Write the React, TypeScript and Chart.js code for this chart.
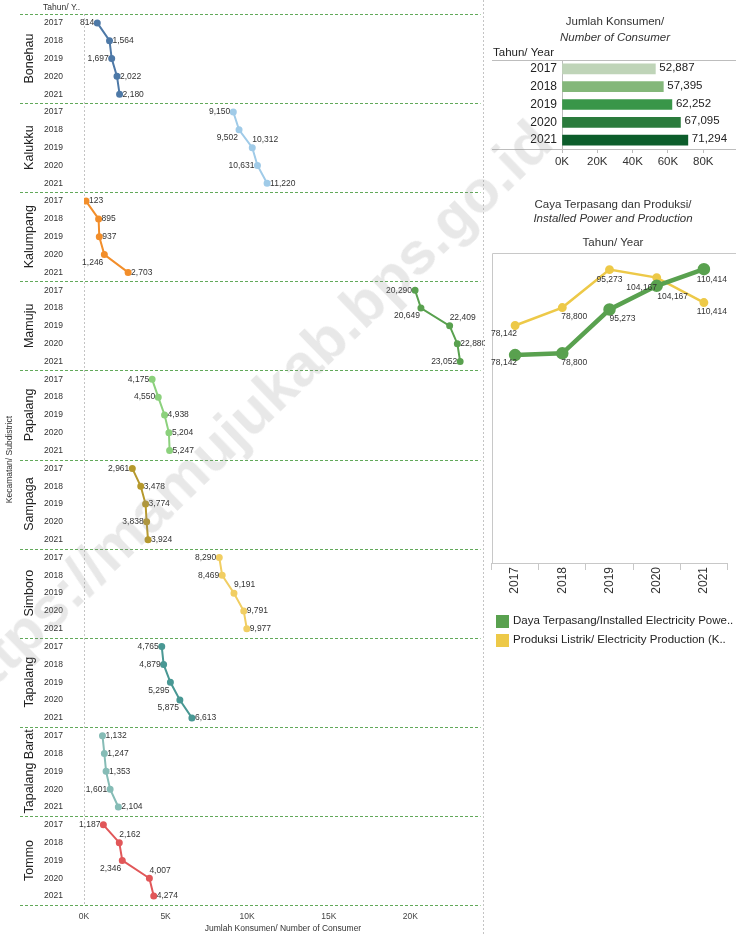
import React, { useEffect, useRef } from 'react';
import { Chart, registerables } from 'chart.js';

Chart.register(...registerables);

const FONT = '"Liberation Sans", Arial, Helvetica, sans-serif';

// ---------------- DATA ----------------
const years = ['2017', '2018', '2019', '2020', '2021'];
const districts = ['Bonehau', 'Kalukku', 'Kalumpang', 'Mamuju', 'Papalang', 'Sampaga', 'Simboro', 'Tapalang', 'Tapalang Barat', 'Tommo'];

const bonehau = [814, 1564, 1697, 2022, 2180];
const kalukku = [9150, 9502, 10312, 10631, 11220];
const kalumpang = [123, 895, 937, 1246, 2703];
const mamuju = [20290, 20649, 22409, 22880, 23052];
const papalang = [4175, 4550, 4938, 5204, 5247];
const sampaga = [2961, 3478, 3774, 3838, 3924];
const simboro = [8290, 8469, 9191, 9791, 9977];
const tapalang = [4765, 4879, 5295, 5875, 6613];
const tapalangBarat = [1132, 1247, 1353, 1601, 2104];
const tommo = [1187, 2162, 2346, 4007, 4274];
const districtValues = [bonehau, kalukku, kalumpang, mamuju, papalang, sampaga, simboro, tapalang, tapalangBarat, tommo];

const districtTicks = [0, 5000, 10000, 15000, 20000];

const consumerTotals = [52887, 57395, 62252, 67095, 71294];
const consumerTicks = [0, 20000, 40000, 60000, 80000];

const installedPower = [78142, 78800, 95273, 104167, 110414];
const productionPlotted = [89250, 96000, 110250, 107250, 97875];
const productionLabels = ['78,142', '78,800', '95,273', '104,167', '110,414'];

const legendLabels = ['Daya Terpasang/Installed Electricity Powe..', 'Produksi Listrik/ Electricity Production (K..'];

// ---------------- STYLES ----------------
const districtColors = ['#4e79a7', '#a0cbe8', '#f28e2b', '#59a14f', '#8cd17d', '#b6992d', '#f1ce63', '#499894', '#86bcb6', '#e15759'];
const labelPlacement = [
  ['L', 'R', 'L', 'R', 'R'],
  ['L', 'LB', 'RA', 'L', 'R'],
  ['R', 'R', 'R', 'LB', 'R'],
  ['L', 'LB', 'RA', 'R', 'L'],
  ['L', 'L', 'R', 'R', 'R'],
  ['L', 'R', 'R', 'L', 'R'],
  ['L', 'L', 'RA', 'R', 'R'],
  ['L', 'L', 'LB', 'LB', 'R'],
  ['R', 'R', 'R', 'L', 'R'],
  ['L', 'RA', 'LB', 'RA', 'R'],
];
const barColors = ['#bfd4b8', '#84b77a', '#399649', '#2a7b3c', '#0c5d2b'];
const powerColor = '#59a14f';
const prodColor = '#edc948';
const powerLabelOffsets = [[-11, 8], [12, 9], [13, 9], [16, 11], [8, 10]];
const prodLabelOffsets = [[-11, 8], [12, 9], [0, 10], [-15, 10], [8, 9]];

const fmt = (n: number) => n.toLocaleString('en-US');
const rowLabels = districts.flatMap((d) => years.map((y) => `${d}|${y}`));

function LeftChart() {
  const ref = useRef<HTMLCanvasElement>(null);
  useEffect(() => {
    const decor = {
      id: 'leftDecor',
      beforeDatasetsDraw(chart: any) {
        const { ctx, chartArea } = chart;
        const x0 = Math.round(chart.scales.x.getPixelForValue(0)) + 0.5;
        ctx.save();
        ctx.strokeStyle = '#c4c4c4';
        ctx.lineWidth = 1;
        ctx.setLineDash([2, 2]);
        ctx.beginPath();
        ctx.moveTo(x0, chartArea.top);
        ctx.lineTo(x0, chartArea.bottom);
        ctx.stroke();
        ctx.restore();
      },
      afterDraw(chart: any) {
        const { ctx, chartArea } = chart;
        const catH = (chartArea.bottom - chartArea.top) / rowLabels.length;
        ctx.save();
        // data labels
        ctx.font = `8.5px ${FONT}`;
        ctx.fillStyle = '#333';
        ctx.textBaseline = 'middle';
        chart.data.datasets.forEach((ds: any, di: number) => {
          const meta = chart.getDatasetMeta(di);
          meta.data.forEach((pt: any, i: number) => {
            const p = labelPlacement[di][i];
            const txt = fmt(districtValues[di][i]);
            let x = pt.x, y = pt.y;
            if (p === 'L') { ctx.textAlign = 'right'; x -= 3; }
            else if (p === 'R') { ctx.textAlign = 'left'; x += 3; }
            else if (p === 'LB') { ctx.textAlign = 'right'; x -= 1; y += 8; }
            else { ctx.textAlign = 'left'; y -= 8; }
            ctx.fillText(txt, x, y);
          });
        });
        // separators
        ctx.strokeStyle = '#62a95a';
        ctx.lineWidth = 1;
        ctx.setLineDash([3, 2]);
        for (let k = 0; k <= districts.length; k++) {
          const y = Math.round(chartArea.top + k * years.length * catH) + 0.5;
          ctx.beginPath();
          ctx.moveTo(20, y);
          ctx.lineTo(chartArea.right, y);
          ctx.stroke();
        }
        // right dashboard divider
        ctx.strokeStyle = '#c4c4c4';
        ctx.setLineDash([2, 2]);
        ctx.beginPath();
        ctx.moveTo(483.5, 0);
        ctx.lineTo(483.5, chart.height);
        ctx.stroke();
        ctx.setLineDash([]);
        // panel names
        ctx.fillStyle = '#222';
        ctx.font = `12.5px ${FONT}`;
        ctx.textAlign = 'center';
        ctx.textBaseline = 'middle';
        districts.forEach((d, k) => {
          const yc = chartArea.top + (k + 0.5) * years.length * catH;
          ctx.save();
          ctx.translate(30, yc);
          ctx.rotate(-Math.PI / 2);
          ctx.fillText(d, 0, 0);
          ctx.restore();
        });
        // side title
        ctx.font = `8.5px ${FONT}`;
        ctx.fillStyle = '#333';
        ctx.save();
        ctx.translate(10, (chartArea.top + chartArea.bottom) / 2);
        ctx.rotate(-Math.PI / 2);
        ctx.fillText('Kecamatan/ Subdistrict', 0, 0);
        ctx.restore();
        // header
        ctx.textAlign = 'left';
        ctx.fillText('Tahun/ Y..', 43, 8);
        // x title
        ctx.textAlign = 'center';
        ctx.fillText('Jumlah Konsumen/ Number of Consumer', 283, 929);
        ctx.restore();
      },
    };
    const chart = new Chart(ref.current!, {
      type: 'line',
      data: {
        labels: rowLabels,
        datasets: districts.map((d, di) => ({
          label: d,
          data: years.map((y, yi) => ({ x: districtValues[di][yi], y: `${d}|${y}` })),
          borderColor: districtColors[di],
          backgroundColor: districtColors[di],
          pointBackgroundColor: districtColors[di],
          pointBorderColor: districtColors[di],
          borderWidth: 2,
          pointRadius: 2.5,
          pointHoverRadius: 2.5,
          tension: 0,
        })) as any,
      },
      options: {
        indexAxis: 'y',
        animation: false,
        responsive: false,
        events: [],
        layout: { padding: { top: 14, right: 2, left: 0, bottom: 0 } },
        plugins: { legend: { display: false }, tooltip: { enabled: false } },
        scales: {
          x: {
            type: 'linear',
            position: 'bottom',
            min: 0,
            max: 24300,
            afterBuildTicks: (s: any) => { s.ticks = districtTicks.map((v) => ({ value: v })); },
            afterFit: (s: any) => { s.height = 31; s.paddingLeft = 0; s.paddingRight = 0; },
            ticks: {
              autoSkip: false,
              maxRotation: 0,
              padding: 7,
              color: '#444',
              font: { size: 8.5, family: FONT },
              callback: (v: any) => `${Number(v) / 1000}K`,
            },
            grid: { display: false, drawTicks: false },
            border: { display: false },
          },
          y: {
            type: 'category',
            labels: rowLabels,
            offset: true,
            afterFit: (s: any) => { s.width = 84; s.paddingTop = 0; s.paddingBottom = 0; },
            ticks: {
              autoSkip: false,
              padding: 21,
              color: '#333',
              font: { size: 8.5, family: FONT },
              callback: (_v: any, i: number) => rowLabels[i].split('|')[1],
            },
            grid: { display: false, drawTicks: false },
            border: { display: false },
          },
        },
      } as any,
      plugins: [decor],
    });
    return () => chart.destroy();
  }, []);
  return <canvas ref={ref} width={485} height={936} style={{ position: 'absolute', left: 0, top: 0, width: 485, height: 936 }} />;
}

function BarChart() {
  const ref = useRef<HTMLCanvasElement>(null);
  useEffect(() => {
    const decor = {
      id: 'barDecor',
      afterDraw(chart: any) {
        const { ctx, chartArea } = chart;
        ctx.save();
        ctx.strokeStyle = '#bdbdbd';
        ctx.lineWidth = 1;
        ctx.beginPath();
        ctx.moveTo(9, Math.round(chartArea.top) + 0.5);
        ctx.lineTo(chart.width, Math.round(chartArea.top) + 0.5);
        ctx.moveTo(9, Math.round(chartArea.bottom) + 0.5);
        ctx.lineTo(chart.width, Math.round(chartArea.bottom) + 0.5);
        ctx.stroke();
        ctx.fillStyle = '#222';
        ctx.font = `11.5px ${FONT}`;
        ctx.textBaseline = 'middle';
        ctx.textAlign = 'left';
        const meta = chart.getDatasetMeta(0);
        meta.data.forEach((bar: any, i: number) => {
          ctx.fillText(fmt(consumerTotals[i]), bar.x + 4, bar.y - 1);
        });
        ctx.fillText('Tahun/ Year', 10, chartArea.top - 7);
        ctx.restore();
      },
    };
    const chart = new Chart(ref.current!, {
      type: 'bar',
      data: {
        labels: years,
        datasets: [{ data: consumerTotals, backgroundColor: barColors, barThickness: 10 }],
      },
      options: {
        indexAxis: 'y',
        animation: false,
        responsive: false,
        events: [],
        layout: { padding: { top: 60, right: 1, left: 0, bottom: 0 } },
        plugins: { legend: { display: false }, tooltip: { enabled: false } },
        scales: {
          x: {
            min: 0,
            max: 98000,
            afterBuildTicks: (s: any) => { s.ticks = consumerTicks.map((v) => ({ value: v })); },
            afterFit: (s: any) => { s.height = 41; s.paddingLeft = 0; s.paddingRight = 0; },
            ticks: {
              autoSkip: false,
              maxRotation: 0,
              padding: 2,
              color: '#333',
              font: { size: 11.5, family: FONT },
              callback: (v: any) => `${Number(v) / 1000}K`,
            },
            grid: { drawOnChartArea: false, drawTicks: true, tickLength: 4, color: '#bdbdbd' },
            border: { display: false },
          },
          y: {
            afterFit: (s: any) => { s.width = 79; s.paddingTop = 0; s.paddingBottom = 0; },
            ticks: { padding: 5, color: '#222', font: { size: 12, family: FONT } },
            grid: { display: false, drawTicks: false },
            border: { display: true, color: '#bdbdbd' },
          },
        },
      } as any,
      plugins: [decor],
    });
    return () => chart.destroy();
  }, []);
  return <canvas ref={ref} width={253} height={190} style={{ position: 'absolute', left: 483, top: 0, width: 253, height: 190 }} />;
}

function LineChart() {
  const ref = useRef<HTMLCanvasElement>(null);
  useEffect(() => {
    const decor = {
      id: 'lineDecor',
      afterDraw(chart: any) {
        const { ctx, chartArea } = chart;
        ctx.save();
        ctx.strokeStyle = '#c8c8c8';
        ctx.lineWidth = 1;
        ctx.beginPath();
        const l = Math.round(chartArea.left) + 0.5;
        const t = Math.round(chartArea.top) + 0.5;
        ctx.moveTo(l, chartArea.bottom);
        ctx.lineTo(l, t);
        ctx.lineTo(chart.width, t);
        ctx.stroke();
        ctx.fillStyle = '#333';
        ctx.font = `8.5px ${FONT}`;
        ctx.textAlign = 'center';
        ctx.textBaseline = 'middle';
        const drawLabels = (di: number, texts: string[], offs: number[][]) => {
          const meta = chart.getDatasetMeta(di);
          meta.data.forEach((pt: any, i: number) => {
            ctx.fillText(texts[i], pt.x + offs[i][0], pt.y + offs[i][1]);
          });
        };
        drawLabels(1, productionLabels, prodLabelOffsets);
        drawLabels(0, installedPower.map(fmt), powerLabelOffsets);
        ctx.restore();
      },
    };
    const chart = new Chart(ref.current!, {
      type: 'line',
      data: {
        labels: years,
        datasets: [
          {
            label: legendLabels[0],
            data: installedPower,
            borderColor: powerColor,
            backgroundColor: powerColor,
            pointBackgroundColor: powerColor,
            pointBorderColor: powerColor,
            borderWidth: 4.5,
            pointRadius: 4,
            tension: 0,
          },
          {
            label: legendLabels[1],
            data: productionPlotted,
            borderColor: prodColor,
            backgroundColor: prodColor,
            pointBackgroundColor: prodColor,
            pointBorderColor: prodColor,
            borderWidth: 2.5,
            pointRadius: 3.2,
            tension: 0,
          },
        ],
      },
      options: {
        animation: false,
        responsive: false,
        events: [],
        layout: { padding: { top: 63, right: 0, left: 8, bottom: 0 } },
        plugins: { legend: { display: false }, tooltip: { enabled: false } },
        scales: {
          x: {
            offset: true,
            afterFit: (s: any) => { s.height = 117; s.paddingLeft = 0; s.paddingRight = 0; },
            ticks: { minRotation: 90, maxRotation: 90, padding: -3, color: '#333', font: { size: 12, family: FONT } },
            grid: { drawOnChartArea: false, drawTicks: true, tickLength: 7, offset: true, color: '#c8c8c8' },
            border: { display: true, color: '#c8c8c8' },
          },
          y: { display: false, min: 0, max: 116500 },
        },
      } as any,
      plugins: [decor],
    });
    return () => chart.destroy();
  }, []);
  return <canvas ref={ref} width={253} height={490} style={{ position: 'absolute', left: 483, top: 190, width: 253, height: 490 }} />;
}

const textStyle = (x: number, y: number, size: number, extra: any = {}) => ({
  position: 'absolute' as const,
  left: x,
  top: y,
  transform: 'translate(-50%, -50%)',
  fontFamily: FONT,
  fontSize: size,
  lineHeight: 1,
  color: '#333',
  whiteSpace: 'nowrap' as const,
  ...extra,
});

export default function App() {
  return (
    <div style={{ position: 'absolute', left: 0, top: 0, width: 736, height: 936, overflow: 'hidden', background: '#fff' }}>
      <LeftChart />
      <BarChart />
      <LineChart />
      <div style={textStyle(615, 22, 11.5)}>Jumlah Konsumen/</div>
      <div style={textStyle(615, 38, 11.5, { fontStyle: 'italic' })}>Number of Consumer</div>
      <div style={textStyle(613, 205, 11.5)}>Caya Terpasang dan Produksi/</div>
      <div style={textStyle(613, 219, 11.5, { fontStyle: 'italic' })}>Installed Power and Production</div>
      <div style={textStyle(613, 243, 11.5)}>Tahun/ Year</div>
      <div style={{ position: 'absolute', left: 496, top: 615, width: 13, height: 13, background: powerColor }} />
      <div style={{ position: 'absolute', left: 513, top: 621, transform: 'translateY(-50%)', fontFamily: FONT, fontSize: 11.5, lineHeight: 1, color: '#222', whiteSpace: 'nowrap' }}>{legendLabels[0]}</div>
      <div style={{ position: 'absolute', left: 496, top: 634, width: 13, height: 13, background: prodColor }} />
      <div style={{ position: 'absolute', left: 513, top: 640, transform: 'translateY(-50%)', fontFamily: FONT, fontSize: 11.5, lineHeight: 1, color: '#222', whiteSpace: 'nowrap' }}>{legendLabels[1]}</div>
      <div
        style={{
          position: 'absolute',
          left: 248,
          top: 415,
          transform: 'translate(-50%, -50%) rotate(-44deg)',
          fontFamily: FONT,
          fontWeight: 'bold',
          fontSize: 60,
          lineHeight: 1,
          color: 'rgba(140,140,140,0.2)',
          whiteSpace: 'nowrap',
          pointerEvents: 'none',
        }}
      >
        https://mamujukab.bps.go.id
      </div>
    </div>
  );
}
